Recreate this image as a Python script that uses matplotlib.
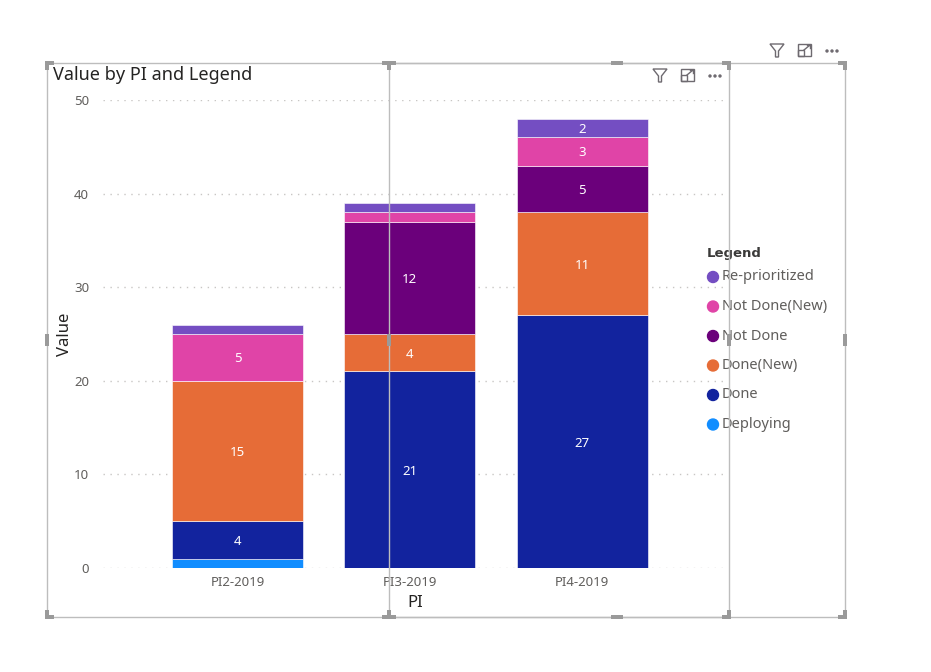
import matplotlib
matplotlib.use("Agg")
import matplotlib.pyplot as plt
from matplotlib.patches import Rectangle, Polygon, Circle
import numpy as np

plt.rcParams['font.family'] = ['Noto Sans', 'DejaVu Sans']

categories = ["PI2-2019", "PI3-2019", "PI4-2019"]
series = ["Deploying", "Done", "Done(New)", "Not Done", "Not Done(New)", "Re-prioritized"]
values = {
    "Deploying":      [1, 0, 0],
    "Done":           [4, 21, 27],
    "Done(New)":      [15, 4, 11],
    "Not Done":       [0, 12, 5],
    "Not Done(New)":  [5, 1, 3],
    "Re-prioritized": [1, 1, 2],
}
colors = {
    "Deploying": "#118DFF",
    "Done": "#12239E",
    "Done(New)": "#E66C37",
    "Not Done": "#6B007B",
    "Not Done(New)": "#E044A7",
    "Re-prioritized": "#744EC2",
}
yticks = [0, 10, 20, 30, 40, 50]

W, H = 931, 672
fig = plt.figure(figsize=(W / 100, H / 100), dpi=100)

def fx(px):
    return px / W

def fy(py):
    return 1 - py / H

# main axes in pixel layout
L, R, T, B = 103, 727, 100, 568
ax = fig.add_axes([fx(L), fy(B), (R - L) / W, (B - T) / H])
x = np.arange(len(categories))
bottom = np.zeros(len(categories))
for s in series:
    v = np.array(values[s], dtype=float)
    ax.bar(x, v, bottom=bottom, width=0.76, color=colors[s], edgecolor='white',
           linewidth=0.4, zorder=3)
    for xi, vi, bi in zip(x, v, bottom):
        if vi >= 2:
            ax.text(xi, bi + vi / 2, f"{int(vi)}", ha='center', va='center_baseline',
                    color='white', fontsize=9.5, zorder=4)
    bottom += v

ax.set_xlim(-0.78, 2.84)
ax.set_ylim(0, 50)
ax.set_yticks(yticks)
ax.set_xticks(x)
ax.set_xticklabels(categories)
ax.tick_params(axis='both', length=0, colors='#605E5C', labelsize=9.5)
ax.tick_params(axis='y', pad=10)
ax.tick_params(axis='x', pad=6)
for t in yticks:
    ax.axhline(t, color='#C8C6C4', linestyle=(0, (1, 4)), linewidth=1, zorder=1)
for sp in ax.spines.values():
    sp.set_visible(False)
ax.set_ylabel("Value", fontsize=12, color='#252423', labelpad=1)
ax.set_xlabel("PI", fontsize=12, color='#252423', labelpad=4)

# title
fig.text(fx(53), fy(75), "Value by PI and Legend", fontsize=13, color='#252423',
         ha='left', va='center')

# legend (manual, Power BI style)
fig.text(fx(707), fy(253), "Legend", fontsize=9.5, fontweight='bold',
         family='DejaVu Sans', color='#3B3A39', ha='left', va='center')
leg_order = list(reversed(series))
for i, s in enumerate(leg_order):
    yy = 277 + i * 29.5
    fig.text(fx(722), fy(yy), s, fontsize=10.5, color='#605E5C', ha='left', va='center')

# overlay for frames, handles, icons
ov = fig.add_axes([0, 0, 1, 1], zorder=10)
ov.set_xlim(0, W)
ov.set_ylim(H, 0)
ov.axis('off')
ov.patch.set_alpha(0)

for i, s in enumerate(leg_order):
    yy = 277 + i * 29.5
    ov.add_patch(Circle((713, yy), 5.5, color=colors[s]))

fc = '#BDBDBD'
hc = '#9A9A9A'
th = 4.0
arm = 9.0
frames = [(47, 63, 729, 617), (389, 63, 845, 617)]
for (x0, y0, x1, y1) in frames:
    ov.add_patch(Rectangle((x0, y0), x1 - x0, y1 - y0, fill=False, edgecolor=fc, lw=1))
for (x0, y0, x1, y1) in frames:
    for cx, cy, dx, dy in [(x0, y0, 1, 1), (x1, y0, -1, 1), (x0, y1, 1, -1), (x1, y1, -1, -1)]:
        hx = cx - th / 2 if dx > 0 else cx + th / 2 - arm
        vy = cy - th / 2 if dy > 0 else cy + th / 2 - arm
        ov.add_patch(Rectangle((hx, cy - th / 2), arm, th, color=hc, lw=0))
        ov.add_patch(Rectangle((cx - th / 2, vy), th, arm, color=hc, lw=0))
    mx, my = (x0 + x1) / 2, (y0 + y1) / 2
    ov.add_patch(Rectangle((mx - 6, y0 - th / 2), 12, th, color=hc, lw=0))
    ov.add_patch(Rectangle((mx - 6, y1 - th / 2), 12, th, color=hc, lw=0))
    ov.add_patch(Rectangle((x0 - th / 2, my - 6), th, 12, color=hc, lw=0))
    ov.add_patch(Rectangle((x1 - th / 2, my - 6), th, 12, color=hc, lw=0))

def icons(x, y):
    ic = '#6E6A70'
    # funnel
    ov.add_patch(Polygon([(x - 7, y - 6), (x + 7, y - 6), (x + 1.5, y + 1), (x + 1.5, y + 7),
                          (x - 1.5, y + 7), (x - 1.5, y + 1)], closed=True, fill=False,
                         edgecolor=ic, lw=1))
    # focus mode
    fx0 = x + 21
    ov.add_patch(Rectangle((fx0, y - 6), 13, 12, fill=False, edgecolor=ic, lw=1))
    ov.add_patch(Rectangle((fx0, y), 6, 6, fill=False, edgecolor=ic, lw=1))
    ov.plot([fx0 + 6, fx0 + 12], [y, y - 5], color=ic, lw=1)
    ov.plot([fx0 + 9, fx0 + 12, fx0 + 12], [y - 5, y - 5, y - 2], color=ic, lw=1)
    # ellipsis
    for k in range(3):
        ov.add_patch(Circle((x + 50 + k * 5, y + 1), 1.0, color=ic))

icons(660, 75)
icons(777, 50)

fig.savefig("out.png", dpi=100)
